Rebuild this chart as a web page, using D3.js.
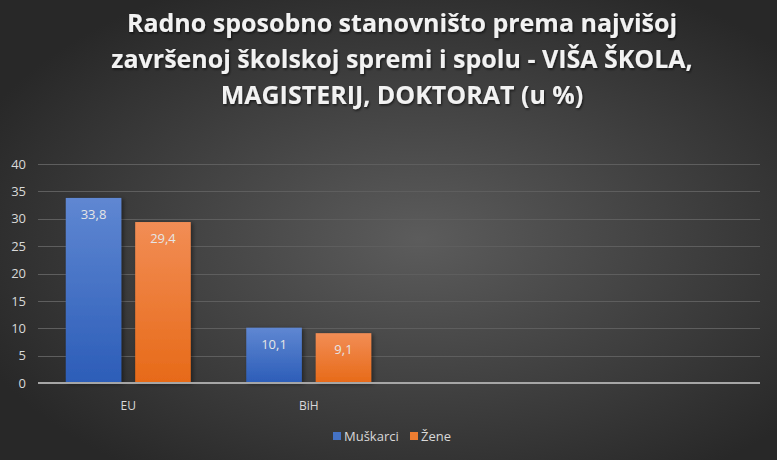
<!DOCTYPE html>
<html><head><meta charset="utf-8">
<script src="https://cdn.jsdelivr.net/npm/d3@7"></script>
<style>html,body{margin:0;padding:0;background:#333;}svg{display:block;}</style>
</head><body>
<script>
const titleLines = ["Radno sposobno stanovništo prema najvišoj", "završenoj školskoj spremi i spolu - VIŠA ŠKOLA,", "MAGISTERIJ, DOKTORAT (u %)"];
const categories = ["EU", "BiH", "", ""];
const seriesNames = ["Muškarci", "Žene"];
const muskarci = [33.8, 10.1, null, null];
const zene = [29.4, 9.1, null, null];
const yTicks = [0, 5, 10, 15, 20, 25, 30, 35, 40];

const W = 777, H = 460;
const m = {left: 38, right: 17, top: 164, bottom: 77};
const svg = d3.select("body").append("svg").attr("width", W).attr("height", H);
const defs = svg.append("defs");
const bg = defs.append("radialGradient").attr("id","bg").attr("cx","54%").attr("cy","52%").attr("r","62%");
bg.append("stop").attr("offset","0%").attr("stop-color","#5c5c5c");
bg.append("stop").attr("offset","100%").attr("stop-color","#282828");
const gb = defs.append("linearGradient").attr("id","gBlue").attr("x1",0).attr("y1",0).attr("x2",0).attr("y2",1);
gb.append("stop").attr("offset","0%").attr("stop-color","#5f87d2");
gb.append("stop").attr("offset","100%").attr("stop-color","#2c5db8");
const go = defs.append("linearGradient").attr("id","gOrange").attr("x1",0).attr("y1",0).attr("x2",0).attr("y2",1);
go.append("stop").attr("offset","0%").attr("stop-color","#f28d55");
go.append("stop").attr("offset","100%").attr("stop-color","#e76a18");
const sh = defs.append("filter").attr("id","sh").attr("x","-20%").attr("y","-20%").attr("width","150%").attr("height","150%");
sh.append("feDropShadow").attr("dx",2).attr("dy",1).attr("stdDeviation",2).attr("flood-color","#000").attr("flood-opacity",0.45);
const tsh = defs.append("filter").attr("id","tsh");
tsh.append("feDropShadow").attr("dx",1).attr("dy",1.5).attr("stdDeviation",1).attr("flood-color","#000").attr("flood-opacity",0.6);

svg.append("rect").attr("width",W).attr("height",H).attr("fill","url(#bg)");

// title
svg.append("g").attr("filter","url(#tsh)").selectAll("text").data(titleLines).join("text")
  .attr("x", 402).attr("y", (d,i)=>32 + i*36)
  .attr("text-anchor","middle").attr("fill","#f2f2f2")
  .attr("font-family","'Open Sans', sans-serif").attr("font-weight","bold").attr("font-size", 25)
  .text(d=>d);

const x = d3.scaleBand().domain(d3.range(categories.length)).range([m.left, W - m.right]);
const y = d3.scaleLinear().domain([0, 40]).range([H - m.bottom, m.top]);
const inner = d3.scaleBand().domain([0,1]).range([0, x.bandwidth()]).paddingOuter(0.4).paddingInner(0.2);

// gridlines
svg.append("g").selectAll("line").data(yTicks.filter(t=>t>0)).join("line")
  .attr("x1", m.left).attr("x2", W - m.right)
  .attr("y1", d=>Math.round(y(d))+0.5).attr("y2", d=>Math.round(y(d))+0.5)
  .attr("stroke","#5e5e5e").attr("stroke-width",1);

// y axis labels
const yAxis = d3.axisLeft(y).tickValues(yTicks).tickSize(0).tickPadding(0);
const ya = svg.append("g").attr("transform",`translate(26,0)`).call(yAxis);
ya.select(".domain").remove();
ya.selectAll("text").attr("fill","#d9d9d9").attr("font-family","'Open Sans', sans-serif").attr("font-size",13);

const series = [muskarci, zene];
const fills = ["url(#gBlue)","url(#gOrange)"];
series.forEach((vals, s) => {
  const g = svg.append("g");
  const data = vals.map((v,i)=>({v,i})).filter(d=>d.v!=null);
  g.selectAll("rect").data(data).join("rect")
    .attr("x", d=>x(d.i)+inner(s)).attr("width", inner.bandwidth())
    .attr("y", d=>y(d.v)).attr("height", d=>y(0)-y(d.v))
    .attr("fill", fills[s]).attr("filter","url(#sh)");
  g.selectAll("text").data(data).join("text")
    .attr("x", d=>x(d.i)+inner(s)+inner.bandwidth()/2).attr("y", d=>y(d.v)+21)
    .attr("text-anchor","middle").attr("fill","#e6e6e6")
    .attr("font-family","'Open Sans', sans-serif").attr("font-size",13)
    .text(d=>String(d.v).replace(".",","));
});

// x axis
svg.append("line").attr("x1",m.left).attr("x2",W-m.right).attr("y1",y(0)).attr("y2",y(0))
  .attr("stroke","#a6a6a6").attr("stroke-width",2);
const xAxis = d3.axisBottom(x).tickFormat(i=>categories[i]).tickSize(0).tickPadding(0);
const xa = svg.append("g").attr("transform",`translate(0,${y(0)+27})`).call(xAxis);
xa.select(".domain").remove();
xa.selectAll("text").attr("fill","#d9d9d9").attr("font-family","'Open Sans', sans-serif").attr("font-size",12).attr("dy",0);

// legend
const legColors = ["#4472c4","#ed7d31"];
const lx = [333, 410];
const lg = svg.append("g");
seriesNames.forEach((n,i)=>{
  lg.append("rect").attr("x",lx[i]).attr("y",432).attr("width",8).attr("height",8).attr("fill",legColors[i]);
  lg.append("text").attr("x",lx[i]+11).attr("y",441).attr("fill","#d9d9d9")
    .attr("font-family","'Open Sans', sans-serif").attr("font-size",13).text(n);
});
</script>
</body></html>
